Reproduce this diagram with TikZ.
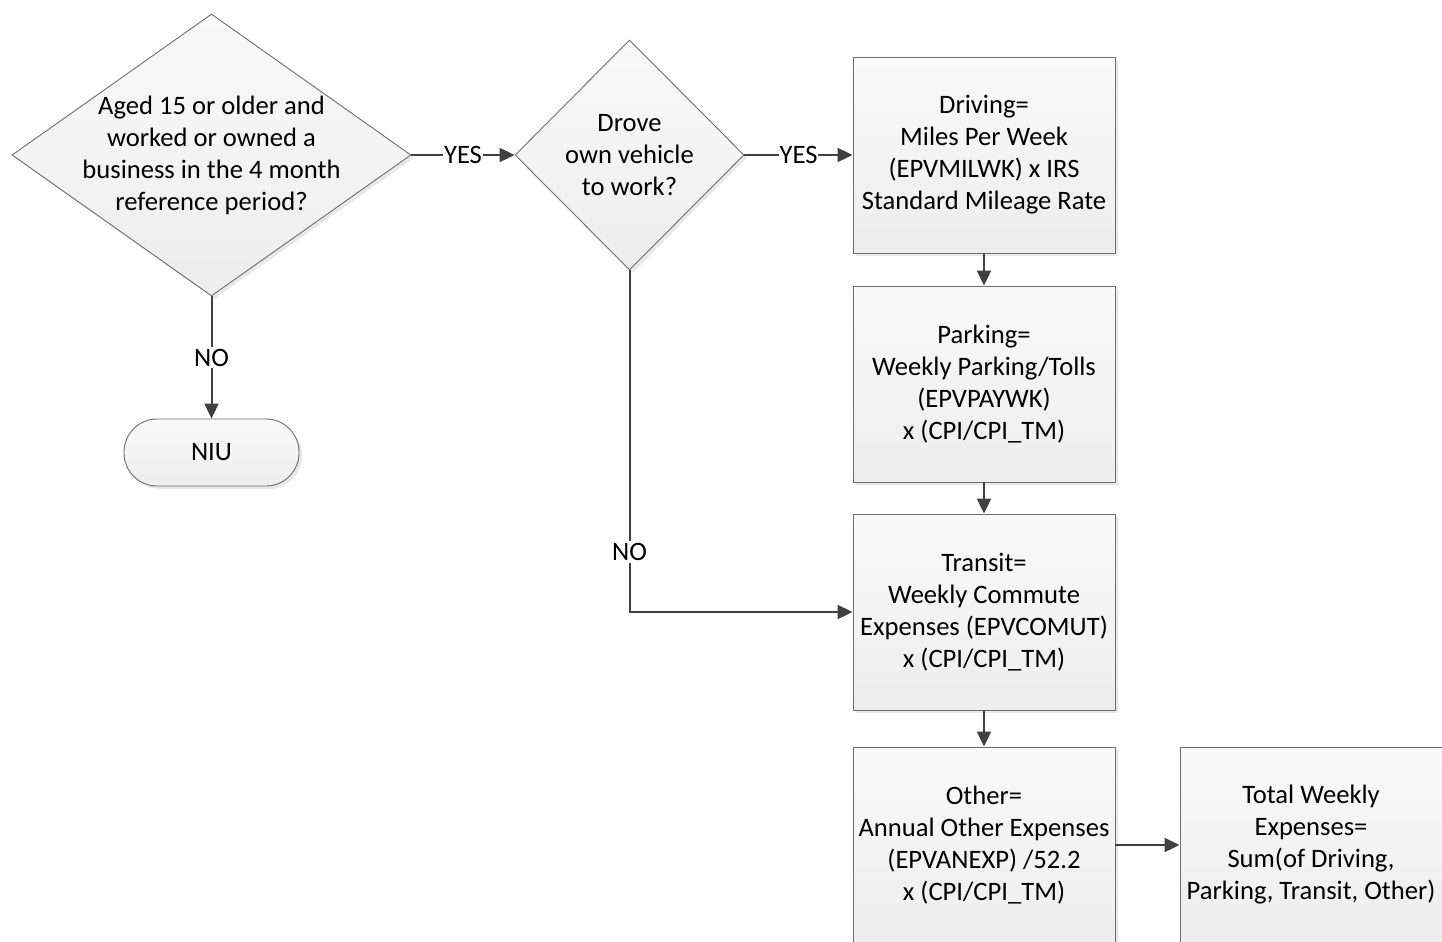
\documentclass[tikz,border=0pt]{standalone}
\usepackage{fontspec}
\setmainfont{Carlito}
\usetikzlibrary{shapes.geometric,arrows.meta,shadows}
\definecolor{conncol}{HTML}{404040}
\definecolor{bordercol}{HTML}{6E6E6E}
\definecolor{filltop}{HTML}{F9F9F9}
\definecolor{fillbot}{HTML}{EDEDED}
\tikzset{
  shapebase/.style={draw=bordercol, line width=0.9bp, top color=filltop, bottom color=fillbot,
    drop shadow={opacity=0.18, shadow xshift=3bp, shadow yshift=-3bp}},
  dia/.style={shapebase, diamond, inner sep=0pt, aspect=1},
  procbox/.style={shapebase, rectangle, minimum width=262bp, minimum height=196bp, inner sep=0pt,
    align=center, font=\fontsize{26.6bp}{32bp}\selectfont},
  termbox/.style={shapebase, rectangle, rounded corners=33bp, minimum width=175bp, minimum height=67bp,
    inner sep=0pt, font=\fontsize{26.6bp}{32bp}\selectfont},
  txt/.style={align=center, inner sep=0pt, font=\fontsize{26.6bp}{32bp}\selectfont},
  conn/.style={draw=conncol, line width=2bp, -{Triangle[length=15bp,width=14bp]}},
  lbl/.style={fill=white, inner xsep=1bp, inner ysep=2bp, font=\fontsize{26.6bp}{30bp}\selectfont}
}
\begin{document}
\begin{tikzpicture}[x=1bp,y=-1bp]
\useasboundingbox (0,0) rectangle (1442,941);
\clip (0,0) rectangle (1442,941);
\fill[white] (0,0) rectangle (1442,941);
% decisions
\node[dia, minimum width=399bp, minimum height=282bp] (d1) at (211.5,155) {};
\node[txt] (d1t) at (d1.center) {Aged 15 or older and\\worked or owned a\\business in the 4 month\\reference period?};
\node[dia, minimum width=229bp, minimum height=230bp] (d2) at (629.5,155) {};
\node[txt] (d2t) at (d2.center) {Drove\\own vehicle\\to work?};
% terminator
\node[termbox] (niu) at (211.5,452.5) {NIU};
% process boxes
\node[procbox] (drv) at (984,155) {Driving=\\Miles Per Week\\(EPVMILWK) x IRS\\Standard Mileage Rate};
\node[procbox] (prk) at (984,384) {Parking=\\Weekly Parking/Tolls\\(EPVPAYWK)\\x (CPI/CPI\_TM)};
\node[procbox] (trn) at (984,612) {Transit=\\Weekly Commute\\Expenses (EPVCOMUT)\\x (CPI/CPI\_TM)};
\node[procbox] (oth) at (984,845) {Other=\\Annual Other Expenses\\(EPVANEXP) /52.2\\x (CPI/CPI\_TM)};
\node[procbox] (tot) at (1311,845) {Total Weekly\\Expenses=\\Sum(of Driving,\\Parking, Transit, Other)};
% connectors
\draw[conn] (d1.east) -- node[lbl] {YES} (d2.west);
\draw[conn] (d2.east) -- node[lbl] {YES} (drv.west);
\draw[conn] (d1.south) -- node[lbl] {NO} (niu.north);
\draw[conn] (d2.south) |- node[lbl, pos=0.412] {NO} (trn.west);
\draw[conn] (drv.south) -- (prk.north);
\draw[conn] (prk.south) -- (trn.north);
\draw[conn] (trn.south) -- (oth.north);
\draw[conn] (oth.east) -- (tot.west);
\end{tikzpicture}
\end{document}
